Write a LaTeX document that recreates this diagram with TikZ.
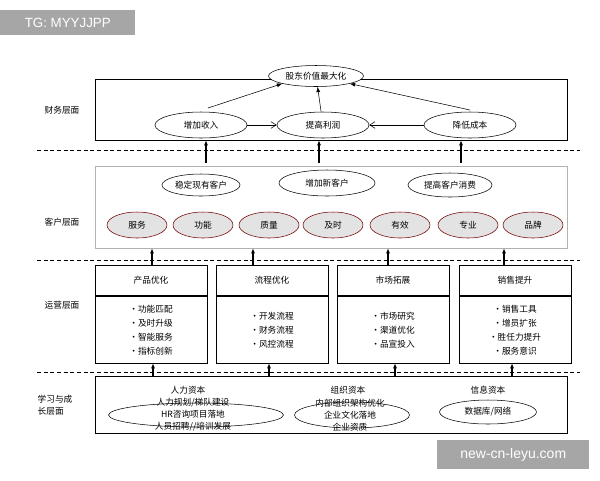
\documentclass[tikz,border=0pt]{standalone}
\usepackage{fontspec}
\setmainfont{Noto Sans CJK SC}
\setsansfont{Liberation Sans}
\usetikzlibrary{arrows.meta,shapes.geometric}
\begin{document}
\begin{tikzpicture}[x=0.75pt,y=-0.75pt,font=\fontsize{6.5}{8}\selectfont,
  el/.style={draw,ellipse,inner sep=0pt},
  gel/.style={draw=red!45!black,fill=gray!22,ellipse,minimum width=60*0.75pt,minimum height=26*0.75pt,inner sep=0pt},
  up/.style={-{Latex[length=4pt,width=3pt]},thick},
  hz/.style={-{Straight Barb[length=4pt,width=5pt]},thin},
  dl/.style={semithick,dash pattern=on 3pt off 2pt},
  obox/.style={draw,thick,minimum width=112*0.75pt,minimum height=98*0.75pt,anchor=north west,inner sep=0pt},
  lab/.style={align=left,font=\fontsize{6.5}{9}\selectfont}]
\useasboundingbox (0,0) rectangle (600,480);
\fill[white] (0,0) rectangle (600,480);
% watermarks
\node[fill=gray!70,text=white,font=\sffamily\fontsize{10}{12}\selectfont,minimum width=135*0.75pt,minimum height=25*0.75pt,inner sep=0pt,anchor=north west] (wm1) at (0,10) {TG: MYYJJPP};
% finance
\node[draw,thick,minimum width=472*0.75pt,minimum height=61*0.75pt,anchor=north west,inner sep=0pt] (fin) at (95,79) {};
\node[el,fill=white,minimum width=95*0.75pt,minimum height=21*0.75pt] (top) at (316,76) {股东价值最大化};
\node[el,fill=white,minimum width=92*0.75pt,minimum height=26*0.75pt] (f1) at (201,125) {增加收入};
\node[el,fill=white,minimum width=92*0.75pt,minimum height=26*0.75pt] (f2) at (323,125) {提高利润};
\node[el,fill=white,minimum width=92*0.75pt,minimum height=26*0.75pt] (f3) at (470,125) {降低成本};
\coordinate (f1s) at (208,108);
\coordinate (f3s) at (470,110);
\draw[up,thin] (f1s) -- (top.south west);
\draw[up,thin] (f2) -- (top);
\draw[up,thin] (f3s) -- (top.south east);
\draw[hz] (f1) -- (f2);
\draw[hz] (f3) -- (f2);
\draw[dl] (37,150) -- (580,150);
\node[lab] (l1) at (62,110) {财务层面};
% customer
\node[draw=gray!60,minimum width=472*0.75pt,minimum height=82*0.75pt,anchor=north west,inner sep=0pt] (cus) at (95,166) {};
\node[el,minimum width=78*0.75pt,minimum height=22*0.75pt] (c1) at (201,185) {稳定现有客户};
\node[el,minimum width=96*0.75pt,minimum height=26*0.75pt] (c2) at (327,183) {增加新客户};
\node[el,minimum width=84*0.75pt,minimum height=24*0.75pt] (c3) at (450,185) {提高客户消费};
\foreach \n/\x/\t in {g1/137/服务,g2/203/功能,g3/269/质量,g4/333/及时,g5/400/有效,g6/468/专业,g7/533/品牌}
  \node[gel] (\n) at (\x,225) {\t};
\coordinate (a1) at (206,163); \coordinate (b1) at (206,140);
\coordinate (a2) at (319,163); \coordinate (b2) at (319,140);
\coordinate (a3) at (461,163); \coordinate (b3) at (461,140);
\draw[up] (a1) -- (b1); \draw[up] (a2) -- (b2); \draw[up] (a3) -- (b3);
\node[lab] (l2) at (62,222) {客户层面};
\draw[dl] (37,260) -- (580,260);
% operations
\foreach \n/\x/\h/\b in {o1/95/产品优化/{•功能匹配\\•及时升级\\•智能服务\\•指标创新},
  o2/216/流程优化/{•开发流程\\•财务流程\\•风控流程},
  o3/337/市场拓展/{•市场研究\\•渠道优化\\•品宣投入},
  o4/459/销售提升/{•销售工具\\•增员扩张\\•胜任力提升\\•服务意识}}{
  \node[obox] (\n) at (\x,265) {};
  \draw[thick] (\x,296) -- ++(112,0);
  \node (\n h) at (\x+56,280) {\h};
  \node[align=center,font=\fontsize{6.5}{10.5}\selectfont] (\n b) at (\x+56,330) {\b};
}
\foreach \x in {152,253,388,504}{\draw[up] (\x,265) -- (\x,248);}
\node[lab] (l3) at (62,305) {运营层面};
\draw[dl] (37,372) -- (580,372);
% learning
\node[draw,thick,minimum width=472*0.75pt,minimum height=57*0.75pt,anchor=north west,inner sep=0pt] (lrn) at (95,376) {};
\foreach \x in {153,269,395,512}{\draw[up] (\x,377) -- (\x,363);}
\node (t1) at (188,390) {人力资本};
\node (t2) at (348,390) {组织资本};
\node (t3) at (488,390) {信息资本};
\node[el,minimum width=175*0.75pt,minimum height=24*0.75pt] (e1) at (196,415) {};
\node[el,minimum width=115*0.75pt,minimum height=26*0.75pt] (e2) at (352,415) {};
\node[el,minimum width=97*0.75pt,minimum height=24*0.75pt] (e3) at (488,412) {数据库/网络};
\node[align=center,font=\fontsize{6.5}{9}\selectfont] (e1t) at (193,415) {人力规划/梯队建设\\HR咨询项目落地\\人员招聘//培训发展};
\node[align=center,font=\fontsize{6.5}{9}\selectfont] (e2t) at (350,415) {内部组织架构优化\\企业文化落地\\企业资质};
\node[lab,align=left] (l4) at (55,405) {学习与成\\长层面};
\node[fill=gray!70,text=white,font=\sffamily\fontsize{10.5}{12}\selectfont,minimum width=152*0.75pt,minimum height=29*0.75pt,inner sep=0pt,anchor=north west] (wm2) at (437,440) {new-cn-leyu.com};
\end{tikzpicture}
\end{document}
